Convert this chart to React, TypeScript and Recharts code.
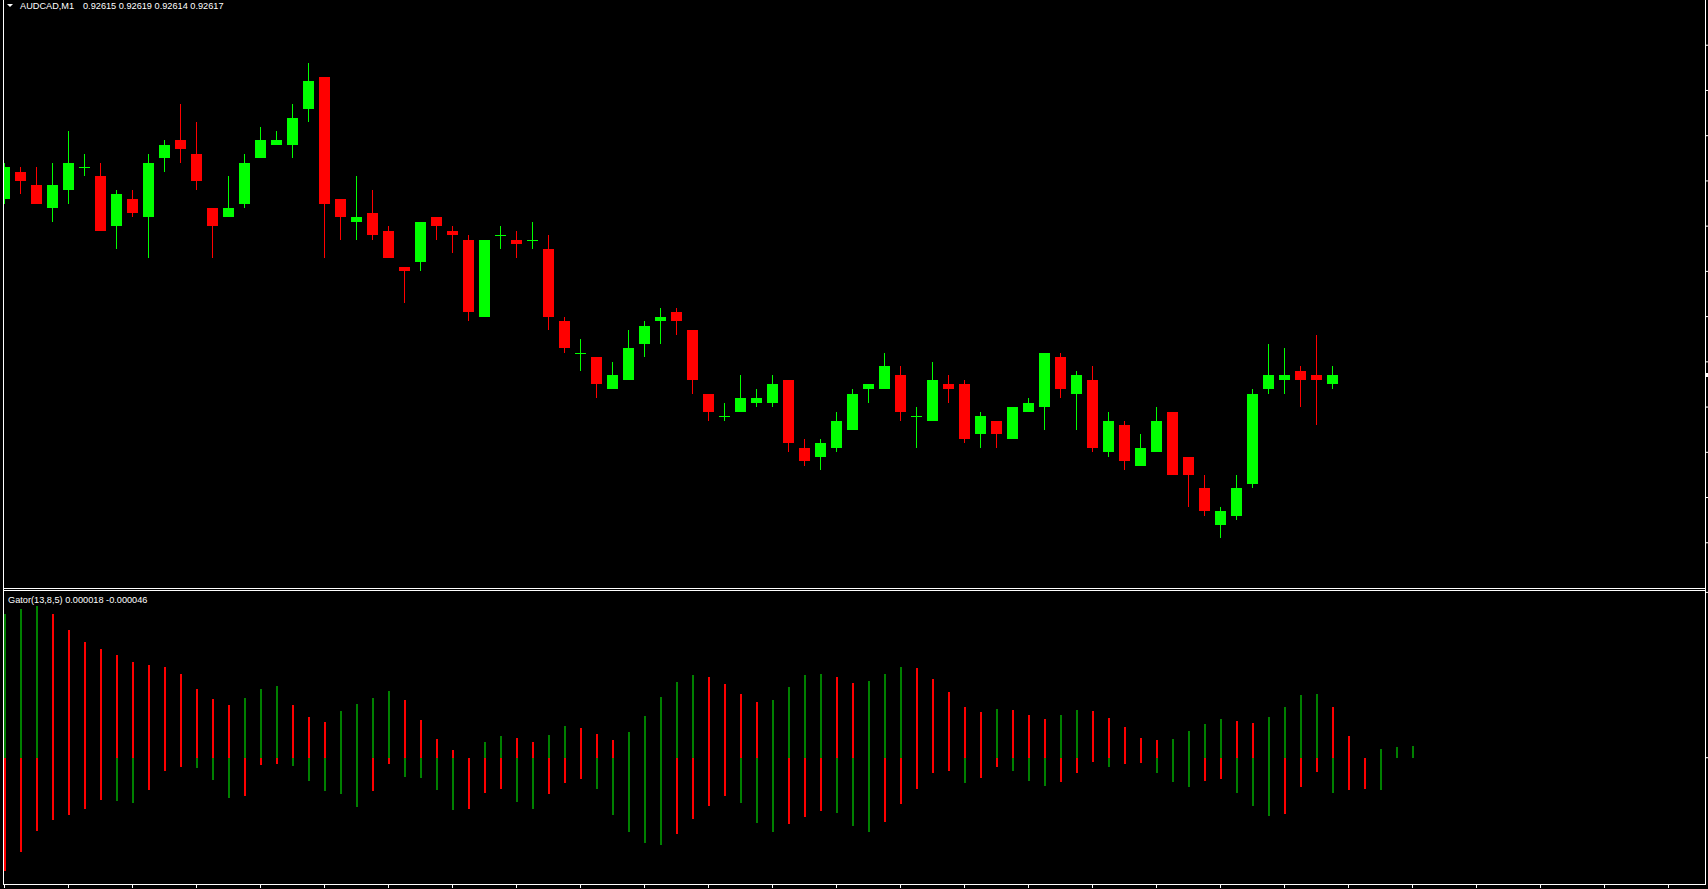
import React from "react";
import { Bar, ComposedChart, XAxis, YAxis } from "recharts";

const symbol = "AUDCAD,M1";
const lastQuote = "0.92615 0.92619 0.92614 0.92617";
const gatorTitle = "Gator(13,8,5) 0.000018 -0.000046";

// M1 candles, oldest first
const candleOpen = [
  0.92656, 0.92662, 0.92659, 0.92654, 0.92658, 0.92663, 0.92661, 0.9265, 0.92656, 0.92652,
  0.92665, 0.92669, 0.92666, 0.92654, 0.92652, 0.92655, 0.92665, 0.92668, 0.92668, 0.92676,
  0.92683, 0.92656, 0.92651, 0.92653, 0.92649, 0.92641, 0.92642, 0.92652, 0.92649, 0.92647,
  0.9263, 0.92648, 0.92647, 0.92647, 0.92645, 0.92629, 0.92622, 0.92621, 0.92614, 0.92616,
  0.92624, 0.92629, 0.92631, 0.92627, 0.92613, 0.92608, 0.92609, 0.92611, 0.92611, 0.92616,
  0.92601, 0.92599, 0.92601, 0.92605, 0.92614, 0.92614, 0.92617, 0.92608, 0.92607, 0.92615,
  0.92615, 0.92604, 0.92607, 0.92603, 0.92609, 0.9261, 0.92621, 0.92613, 0.92616, 0.926,
  0.92606, 0.92597, 0.926, 0.92609, 0.92599, 0.92592, 0.92584, 0.92586, 0.92593, 0.92614,
  0.92616, 0.92618, 0.92617, 0.92615,
];
const candleHigh = [
  0.92664, 0.92663, 0.92663, 0.92664, 0.92671, 0.92666, 0.92664, 0.92658, 0.92658, 0.92666,
  0.92669, 0.92677, 0.92673, 0.92654, 0.92661, 0.92666, 0.92672, 0.92671, 0.92677, 0.92686,
  0.92683, 0.92656, 0.92661, 0.92658, 0.9265, 0.92641, 0.92651, 0.92652, 0.9265, 0.92648,
  0.92647, 0.9265, 0.92649, 0.92651, 0.92648, 0.9263, 0.92625, 0.92621, 0.9262, 0.92627,
  0.92629, 0.92632, 0.92632, 0.92627, 0.92613, 0.92611, 0.92617, 0.92614, 0.92617, 0.92616,
  0.92603, 0.92603, 0.92609, 0.92614, 0.92615, 0.92622, 0.92619, 0.9261, 0.9262, 0.92617,
  0.92616, 0.92609, 0.92607, 0.9261, 0.92612, 0.92622, 0.92622, 0.92618, 0.92619, 0.92609,
  0.92607, 0.92604, 0.9261, 0.92609, 0.92599, 0.92595, 0.92588, 0.92595, 0.92614, 0.92624,
  0.92623, 0.92619, 0.92626, 0.92619,
];
const candleLow = [
  0.92655, 0.92657, 0.92655, 0.92651, 0.92655, 0.92661, 0.92649, 0.92645, 0.92652, 0.92643,
  0.92662, 0.92664, 0.92658, 0.92643, 0.92652, 0.92654, 0.92665, 0.92668, 0.92665, 0.92673,
  0.92643, 0.92647, 0.92647, 0.92647, 0.92643, 0.92633, 0.9264, 0.92647, 0.92644, 0.92629,
  0.9263, 0.92645, 0.92643, 0.92645, 0.92627, 0.92622, 0.92618, 0.92612, 0.92614, 0.92616,
  0.92621, 0.92624, 0.92626, 0.92613, 0.92607, 0.92607, 0.92609, 0.9261, 0.9261, 0.926,
  0.92597, 0.92596, 0.926, 0.92605, 0.92611, 0.92614, 0.92607, 0.92601, 0.92607, 0.92611,
  0.92602, 0.92601, 0.92601, 0.92603, 0.92609, 0.92605, 0.92612, 0.92605, 0.926, 0.92599,
  0.92596, 0.92597, 0.926, 0.92595, 0.92588, 0.92586, 0.92581, 0.92585, 0.92592, 0.92613,
  0.92613, 0.9261, 0.92606, 0.92614,
];
const candleClose = [
  0.92663, 0.9266, 0.92655, 0.92659, 0.92664, 0.92663, 0.92649, 0.92657, 0.92653, 0.92664,
  0.92668, 0.92667, 0.9266, 0.9265, 0.92654, 0.92664, 0.92669, 0.92669, 0.92674, 0.92682,
  0.92655, 0.92652, 0.92652, 0.92648, 0.92643, 0.9264, 0.92651, 0.9265, 0.92648, 0.92631,
  0.92647, 0.92648, 0.92646, 0.92647, 0.9263, 0.92623, 0.92622, 0.92615, 0.92617, 0.92623,
  0.92628, 0.9263, 0.92629, 0.92616, 0.92609, 0.92608, 0.92612, 0.92612, 0.92615, 0.92602,
  0.92598, 0.92602, 0.92607, 0.92613, 0.92615, 0.92619, 0.92609, 0.92608, 0.92616, 0.92614,
  0.92603, 0.92608, 0.92604, 0.9261, 0.92611, 0.92622, 0.92614, 0.92617, 0.92601, 0.92607,
  0.92598, 0.92601, 0.92607, 0.92595, 0.92595, 0.92587, 0.92587, 0.92592, 0.92613, 0.92617,
  0.92617, 0.92616, 0.92616, 0.92617,
];

// Gator histogram, in millionths (runs 5 bars past the last candle)
const gatorUpper = [
  216, 223, 228, 216, 192, 174, 163, 154, 144, 139,
  136, 126, 103, 88, 79, 90, 103, 108, 79, 61,
  54, 70, 81, 90, 100, 87, 57, 28, 12, 0,
  24, 33, 30, 24, 34, 48, 45, 36, 27, 39,
  63, 91, 114, 124, 121, 111, 96, 84, 87, 106,
  124, 126, 121, 112, 115, 126, 136, 135, 118, 99,
  76, 69, 73, 72, 64, 58, 64, 72, 70, 60,
  46, 30, 27, 28, 40, 51, 58, 55, 52, 61,
  76, 94, 96, 76, 33, 0, 13, 16, 18,
];
const gatorLower: (number | null)[] = [
  -170, -141, -110, -93, -86, -77, -63, -65, -68, -48,
  -20, -14, -15, -33, -60, -57, -11, -9, -12, -35,
  -50, -54, -74, -50, -9, -29, -30, -48, -78, -77,
  -53, -47, -66, -77, -54, -38, -32, -47, -86, -111,
  -128, -131, -114, -92, -72, -57, -68, -98, -111, -99,
  -89, -80, -83, -102, -111, -96, -69, -47, -23, -20,
  -38, -30, -14, -20, -35, -42, -36, -23, -6, -14,
  -9, -8, -23, -36, -44, -35, -32, -53, -72, -87,
  -84, -44, -21, -53, -48, -47, -48, null, null,
];
// values of the bar just left of the window (decide the first bar's colour)
const gatorUpperBefore = 210;
const gatorLowerBefore = -175;

const priceTicks = [
  0.9258, 0.9259, 0.926, 0.9261, 0.9262, 0.9263, 0.9264, 0.9265, 0.9266, 0.9267, 0.9268, 0.9269,
];
const timeTicks = [
  0, 4, 8, 12, 16, 20, 24, 28, 32, 36, 40, 44, 48, 52, 56, 60, 64, 68, 72, 76, 80, 84, 88, 92,
  96, 100, 104,
];
const gatorTicks = [0.000248, 0];

const BULL = "#00ff00";
const BEAR = "#ff0000";
const GATOR_UP = "#008000";
const GATOR_DOWN = "#ff0000";

const X_DOMAIN: [number, number] = [-0.09375, 106.28125];
const PRICE_DOMAIN: [number, number] = [0.9257, 0.927];
const GATOR_DOMAIN: [number, number] = [-0.00018945, 0.00025005];

const candles = candleOpen.map((open, i) => ({
  i,
  open,
  high: candleHigh[i],
  low: candleLow[i],
  close: candleClose[i],
}));

const gator = gatorUpper.map((u, i) => {
  const prevU = i ? gatorUpper[i - 1] : gatorUpperBefore;
  const l = gatorLower[i];
  const prevL = i ? gatorLower[i - 1] : gatorLowerBefore;
  return {
    i,
    up: u * 1e-6,
    dn: l == null ? 0 : l * 1e-6,
    upColor: u > prevU ? GATOR_UP : GATOR_DOWN,
    dnColor:
      l != null && prevL != null && Math.abs(l) > Math.abs(prevL)
        ? GATOR_UP
        : GATOR_DOWN,
  };
});

const CandleShape = (props: any) => {
  const { x, y, width, height, payload } = props;
  if (!payload || x == null) return <g />;
  const cx = Math.round(x + width / 2 - 0.5) + 0.5;
  const top = Math.min(y, y + height);
  const span = Math.abs(height);
  const { open, high, low, close } = payload;
  const py = (p: number) => top + ((high - p) / (high - low)) * span;
  const color = close >= open ? BULL : BEAR;
  const yHi = Math.round(top);
  const yLo = Math.round(top + span);
  const bodyTop = Math.round(py(Math.max(open, close)));
  const bodyBot = Math.round(py(Math.min(open, close)));
  return (
    <g>
      <rect x={cx - 0.5} y={yHi} width={1} height={Math.max(1, yLo - yHi)} fill={color} />
      <rect
        x={cx - 5.5}
        y={bodyTop}
        width={11}
        height={Math.max(1, bodyBot - bodyTop)}
        fill={color}
      />
    </g>
  );
};

const GatorShape = (props: any) => {
  const { x, y, width, height, payload } = props;
  if (!payload || x == null) return <g />;
  const { up, dn, upColor, dnColor } = payload;
  const total = up - dn;
  if (!(total > 0)) return <g />;
  const x0 = Math.floor(x + width / 2);
  const top = Math.min(y, y + height);
  const span = Math.abs(height);
  const zeroY = Math.round(top + (up / total) * span);
  const yTop = Math.round(top);
  const yBot = Math.round(top + span);
  return (
    <g>
      {zeroY > yTop && (
        <rect x={x0} y={yTop} width={2} height={zeroY - yTop} fill={upColor} />
      )}
      {yBot > zeroY && (
        <rect x={x0} y={zeroY} width={2} height={yBot - zeroY} fill={dnColor} />
      )}
    </g>
  );
};

// the scales carry tick marks only, the labels are cut off in the screenshot
const EmptyTick = () => <g />;

const line = (left: number, top: number, width: number, height: number, color = "#fff") => (
  <div style={{ position: "absolute", left, top, width, height, background: color }} />
);

const textStyle: React.CSSProperties = {
  position: "absolute",
  color: "#fff",
  fontFamily: "'Liberation Sans', Arial, sans-serif",
  fontSize: 9.2,
  lineHeight: "11px",
  whiteSpace: "pre",
};

export default function App() {
  return (
    <div
      style={{
        position: "relative",
        width: 1708,
        height: 889,
        background: "#000",
        overflow: "hidden",
      }}
    >
      <style>{`body{margin:0;background:#000}`}</style>

      {/* price panel */}
      <div style={{ position: "absolute", left: 0, top: 0 }}>
        <ComposedChart
          width={1708}
          height={589}
          data={candles}
          margin={{ top: 0, right: 0, bottom: 1, left: 3 }}
        >
          <XAxis
            dataKey="i"
            type="number"
            domain={X_DOMAIN}
            allowDataOverflow
            hide
          />
          <YAxis
            orientation="right"
            width={3}
            domain={PRICE_DOMAIN}
            allowDataOverflow
            ticks={priceTicks}
            interval={0}
            axisLine={false}
            tickLine={{ stroke: "#fff", strokeWidth: 1 }}
            tickSize={3}
            tick={<EmptyTick />}
          />
          <Bar
            dataKey={(d: any) => [d.low, d.high]}
            barSize={11}
            shape={<CandleShape />}
            isAnimationActive={false}
          />
        </ComposedChart>
      </div>

      {/* gator panel */}
      <div style={{ position: "absolute", left: 0, top: 591 }}>
        <ComposedChart
          width={1708}
          height={298}
          data={gator}
          margin={{ top: 0, right: 0, bottom: 0, left: 3 }}
        >
          <XAxis
            dataKey="i"
            type="number"
            domain={X_DOMAIN}
            allowDataOverflow
            ticks={timeTicks}
            interval={0}
            height={5}
            axisLine={false}
            tickLine={{ stroke: "#fff", strokeWidth: 1 }}
            tickSize={4}
            tick={<EmptyTick />}
          />
          <YAxis
            orientation="right"
            width={3}
            domain={GATOR_DOMAIN}
            allowDataOverflow
            ticks={gatorTicks}
            interval={0}
            axisLine={false}
            tickLine={{ stroke: "#fff", strokeWidth: 1 }}
            tickSize={3}
            tick={<EmptyTick />}
          />
          <Bar
            dataKey={(d: any) => [d.dn, d.up]}
            barSize={2}
            shape={<GatorShape />}
            isAnimationActive={false}
          />
        </ComposedChart>
      </div>

      {/* panel frames */}
      {line(3, 0, 1, 885)}
      {line(1705, 0, 1, 885)}
      {line(3, 588, 1703, 1)}
      {line(3, 590, 1703, 1)}
      {line(3, 884, 1703, 1)}
      {/* bid marker on the price scale */}
      {line(1706, 373, 2, 4)}

      {/* headers */}
      <div
        style={{
          position: "absolute",
          left: 7,
          top: 4,
          width: 0,
          height: 0,
          borderLeft: "3px solid transparent",
          borderRight: "3px solid transparent",
          borderTop: "3px solid #fff",
        }}
      />
      <div style={{ ...textStyle, left: 20, top: 1 }}>{symbol}</div>
      <div style={{ ...textStyle, left: 83, top: 1 }}>{lastQuote}</div>
      <div style={{ ...textStyle, left: 8, top: 595 }}>{gatorTitle}</div>
    </div>
  );
}
